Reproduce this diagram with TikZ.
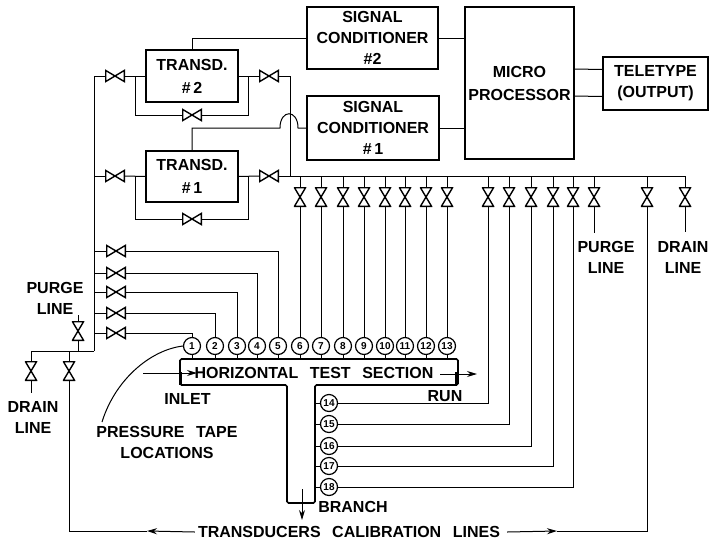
\documentclass[tikz,border=0pt]{standalone}
\usepackage{fontspec}
\setmainfont[WordSpace=2.6]{Liberation Sans}
\usetikzlibrary{arrows.meta,positioning}
\begin{document}
\begin{tikzpicture}[x=1pt, y=-1pt,
        every node/.style={font=\bfseries\fontsize{16}{21}\selectfont, align=center, inner sep=0pt},
        box/.style={rectangle, draw, line width=1.5pt, inner sep=0pt},
        pipe/.style={line width=1pt},
        arrow/.style={->, >={Stealth[length=10pt,width=6pt]}, line width=1pt},
        tap/.style={circle, draw, line width=1.2pt, minimum size=17pt, font=\bfseries\fontsize{10}{10}\selectfont},
        valveh/.style={minimum width=20pt, minimum height=12.5pt, path picture={
            \draw[line width=1.4pt] ([shift={(.7pt,.7pt)}]path picture bounding box.south west) -- ([shift={(-.7pt,-.7pt)}]path picture bounding box.north east)
            -- ([shift={(-.7pt,.7pt)}]path picture bounding box.south east) -- ([shift={(.7pt,-.7pt)}]path picture bounding box.north west) -- cycle;}},
        valvev/.style={minimum width=12.5pt, minimum height=20pt, path picture={
            \draw[line width=1.4pt] ([shift={(.7pt,.7pt)}]path picture bounding box.south west) -- ([shift={(-.7pt,.7pt)}]path picture bounding box.south east)
            -- ([shift={(.7pt,-.7pt)}]path picture bounding box.north west) -- ([shift={(-.7pt,-.7pt)}]path picture bounding box.north east) -- cycle;}}
    ]
    \useasboundingbox (0,0) rectangle (710,547);

    \node[box, minimum width=92pt, minimum height=52pt, font=\bfseries\fontsize{16}{23}\selectfont] (tr2) at (192,76) {TRANSD.\\\#\,2};
    \node[box, minimum width=92pt, minimum height=51pt, font=\bfseries\fontsize{16}{23}\selectfont] (tr1) at (192,176.5) {TRANSD.\\\#\,1};
    \node[box, minimum width=131pt, minimum height=62pt] (sc2) at (372.5,38) {SIGNAL\\CONDITIONER\\\#2};
    \node[box, minimum width=132pt, minimum height=64pt] (sc1) at (373,128) {SIGNAL\\CONDITIONER\\\#\,1};
    \node[box, minimum width=109pt, minimum height=152pt, font=\bfseries\fontsize{16}{23}\selectfont] (micro) at (519.5,83) {MICRO\\PROCESSOR};
    \node[box, minimum width=105pt, minimum height=53pt] (tele) at (655.5,83.5) {TELETYPE\\(OUTPUT)};

    \draw[pipe] (sc2.east) -- (sc2.east -| micro.west);
    \draw[pipe] (sc1.east) -- (sc1.east -| micro.west);
    \draw[pipe] ([yshift=14pt]micro.east) -- ([yshift=14pt]tele.west);
    \draw[pipe] ([yshift=-13pt]micro.east) -- ([yshift=-13pt]tele.west);
    \draw[pipe] (tr2.north) |- (sc2.west);

    \coordinate (hopl) at (280,128);
    \coordinate (hopr) at (298,128);
    \draw[pipe] (tr1.north) |- (hopl) .. controls (280,109) and (298,109) .. (hopr) -- (sc1.west);

    \coordinate (hdr) at (94,351);
    \coordinate (jct) at (290,176);
    \coordinate (busend) at (685,176);

    \foreach \n/\y/\b in {2/76/115, 1/176/219} {
        \node[valveh] (vl\n) at (115,\y) {};
        \node[valveh] (vr\n) at (269,\y) {};
        \node[valveh] (bp\n) at (192,\b) {};
        \coordinate (bl\n) at (135,\y);
        \coordinate (br\n) at (248,\y);
        \draw[pipe] (vl\n.east) -- (tr\n.west);
        \draw[pipe] (tr\n.east) -- (vr\n.west);
        \draw[pipe] (bp\n.west) -| (bl\n);
        \draw[pipe] (bp\n.east) -| (br\n);
    }
    \draw[pipe] (vl2.west) -| (hdr);
    \draw[pipe] (vl1.west) -- (vl1.west -| hdr);
    \draw[pipe] (vr2.east) -| (jct);
    \draw[pipe] (vr1.east) -- (busend);

    % test section
    \coordinate (ttop) at (180,359);
    \coordinate (brw) at (315,385);
    \draw[line width=1.6pt, rounded corners=1.5pt] (180,359) -- (458,359) -- (458,385) -- (315,385) -- (315,503) -- (287,503) -- (287,385) -- (180,385) -- cycle;
    \draw[line width=3pt] (180,372) -- (180,385);
    \draw[line width=3pt] (456.5,372) -- (456.5,385);
    \node (tsec) at (314,373) {HORIZONTAL TEST SECTION};

    \foreach \n/\x in {1/192,2/215,3/237,4/257,5/278,6/300,7/321,8/343,9/364,10/385,11/405,12/426,13/447} {
        \node[tap] (tp\n) at (\x,346) {\n};
        \draw[pipe] (tp\n.south) -- (tp\n.south |- ttop);
    }
    \foreach \n/\y in {14/403,15/424,16/446,17/466,18/487} {
        \node[tap] (tp\n) at (329,\y) {\n};
        \draw[pipe] (tp\n.west) -- (tp\n.west -| brw);
    }

    % calibration valves
    \foreach \n/\y in {5/251,4/273,3/292,2/313,1/333} {
        \node[valveh] (cv\n) at (116,\y) {};
        \draw[pipe] (cv\n.west) -- (cv\n.west -| hdr);
        \draw[pipe] (cv\n.east) -| (tp\n.north);
    }
    \foreach \n/\x in {6/300,7/321,8/343,9/364,10/385,11/405,12/426,13/447} {
        \node[valvev] (bv\n) at (\x,197) {};
        \draw[pipe] (bv\n.north) -- (bv\n.north |- busend);
        \draw[pipe] (bv\n.south) -- (tp\n.north);
    }
    \foreach \n/\x in {14/488,15/509,16/531,17/553,18/573} {
        \node[valvev] (bv\n) at (\x,197) {};
        \draw[pipe] (bv\n.north) -- (bv\n.north |- busend);
        \draw[pipe] (tp\n.east) -| (bv\n.south);
    }

    % purge and drain
    \node[valvev] (pvr) at (594,197) {};
    \node[valvev] (cvr) at (647,197) {};
    \node[valvev] (dvr) at (685,197) {};
    \node (plr) at (606,257) {PURGE\\LINE};
    \node (dlr) at (683,257) {DRAIN\\LINE};
    \coordinate (pendr) at (594,233);
    \coordinate (dendr) at (685,232);
    \foreach \v in {pvr,cvr,dvr}
        \draw[pipe] (\v.north) -- (\v.north |- busend);
    \draw[pipe] (pvr.south) -- (pendr);
    \draw[pipe] (dvr.south) -- (dendr);

    \node[valvev] (pvl) at (78,331) {};
    \node[valvev] (dv1) at (31,371) {};
    \node[valvev] (dv2) at (69,371) {};
    \node (pll) at (55,298.5) {PURGE\\LINE};
    \node (dll) at (33,417.5) {DRAIN\\LINE};
    \coordinate (pendl) at (78,315);
    \coordinate (dendl) at (31,393);
    \draw[pipe] (hdr) -| (dv1.north);
    \draw[pipe] (dv2.north) -- (dv2.north |- hdr);
    \draw[pipe] (pvl.south) -- (pvl.south |- hdr);
    \draw[pipe] (pvl.north) -- (pendl);
    \draw[pipe] (dv1.south) -- (dendl);

    % calibration line
    \node (cal) at (349,532) {TRANSDUCERS CALIBRATION LINES};
    \coordinate (arl) at (147,531);
    \coordinate (arr) at (557,531);
    \draw[arrow] ([xshift=-3pt]cal.west) -- (arl);
    \draw[pipe] (arl) -| (dv2.south);
    \draw[arrow] ([xshift=7pt]cal.east) -- (arr);
    \draw[pipe] (arr) -| (cvr.south);

    % flow arrows
    \coordinate (inl) at (143,373);
    \coordinate (inr) at (197,373);
    \coordinate (runl) at (440,374);
    \coordinate (runr) at (477,374);
    \coordinate (brt) at (302,489);
    \coordinate (brb) at (302,520);
    \draw[arrow] (inl) -- (inr);
    \draw[arrow] (runl) -- (runr);
    \draw[arrow] (brt) -- (brb);

    \node (inlet) at (187.5,399) {INLET};
    \node (run) at (445,396) {RUN};
    \node (branch) at (353,507) {BRANCH};
    \node (ptl) at (167,442.5) {PRESSURE TAPE\\LOCATIONS};
    \coordinate (ptend) at (102,422);
    \draw[pipe] (tp1.west) .. controls (150,350) and (115,380) .. (ptend);
\end{tikzpicture}
\end{document}
